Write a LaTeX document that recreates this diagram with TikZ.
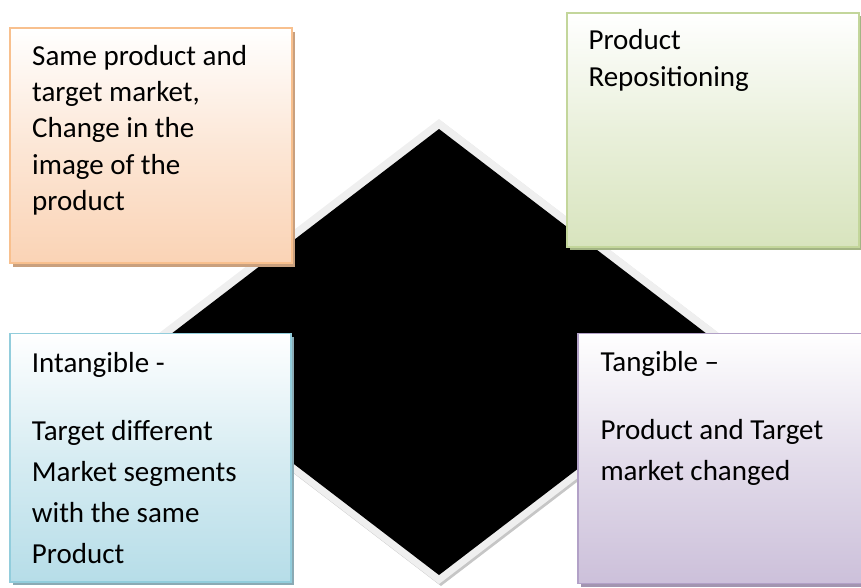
\documentclass[tikz,border=0pt]{standalone}
\usepackage{fontspec}
\setmainfont{Carlito}
\definecolor{orB}{HTML}{F8C08E}
\definecolor{orF}{HTML}{FAD3B5}
\definecolor{orS}{HTML}{C9A07E}
\definecolor{grB}{HTML}{C3D69B}
\definecolor{grF}{HTML}{D8E4BE}
\definecolor{grS}{HTML}{A3B484}
\definecolor{blB}{HTML}{92CDDC}
\definecolor{blF}{HTML}{B6DDE8}
\definecolor{blS}{HTML}{8AAAB4}
\definecolor{puB}{HTML}{B2A1C7}
\definecolor{puF}{HTML}{CCC0DA}
\definecolor{puS}{HTML}{A295B0}
\definecolor{dia}{HTML}{EFEFEF}
\tikzset{
  boxstyle/.style={line width=1.6pt},
  txt/.style={anchor=base west, inner sep=0pt, align=left, font=\fontsize{29}{36.1}\selectfont},
}
\begin{document}
\begin{tikzpicture}[x=1pt,y=-1pt]
\useasboundingbox (0,0) rectangle (861,587);
% diamond
\fill[gray!45] (441,121) -- (745,353.5) -- (441,586) -- (137,353.5) -- cycle;
\fill[dia] (439,119) -- (743,351.5) -- (439,584) -- (135,351.5) -- cycle;
\fill[black] (439,129) -- (730.5,352) -- (439,575) -- (147.5,352) -- cycle;
% orange box
\fill[orS] (13,32) rectangle (295,267);
\shade[top color=white, bottom color=orF, middle color=orF!55] (10,28) rectangle (292,263);
\draw[boxstyle, orB] (10,28) rectangle (292,263);
\node[txt] (o) at (32,210.1) {Same product and\\target market,\\Change in the\\image of the\\product};
% green box
\fill[grS] (570,16) rectangle (862,250);
\shade[top color=white, bottom color=grF, middle color=grF!55] (567,12.7) rectangle (859,246.7);
\draw[boxstyle, grB] (567,12.7) rectangle (859,246.7);
\node[txt] (g) at (588.3,86) {Product\\Repositioning};
% blue box
\fill[blS] (13,337) rectangle (294,585);
\shade[top color=white, bottom color=blF, middle color=blF!55] (10,333.3) rectangle (290.7,581.7);
\draw[boxstyle, blB] (10,333.3) rectangle (290.7,581.7);
\node[txt, font=\fontsize{29}{41}\selectfont] (b) at (31.7,563) {Intangible -\\[26.7pt]Target different\\Market segments\\with the same\\Product};
% purple box
\fill[puS] (581,337) rectangle (866,587);
\shade[top color=white, bottom color=puF, middle color=puF!55] (577.7,333.3) rectangle (863,583.3);
\draw[boxstyle, puB] (577.7,333.3) rectangle (863,583.3);
\node[txt, font=\fontsize{29}{40.7}\selectfont] (p) at (600.3,480.1) {Tangible –\\[27pt]Product and Target\\market changed};
\end{tikzpicture}
\end{document}
